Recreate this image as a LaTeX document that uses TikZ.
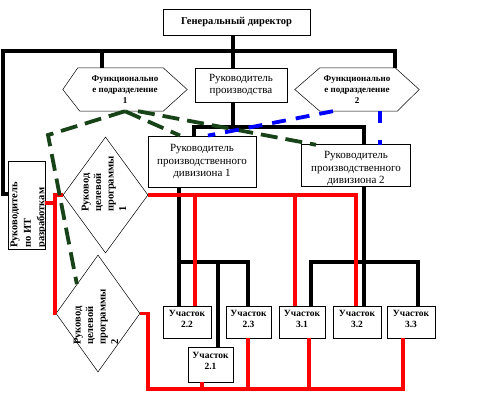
\documentclass[tikz,border=0pt]{standalone}
\usepackage{fontspec}
\setmainfont{Liberation Serif}
\usetikzlibrary{shapes.geometric,calc}
\definecolor{dgreen}{RGB}{24,66,24}
\definecolor{lred}{RGB}{255,0,0}
\definecolor{lblue}{RGB}{0,0,255}
\begin{document}
\begin{tikzpicture}[x=1pt,y=-1pt,
  box/.style={draw,fill=white,line width=0.9pt,inner sep=0pt},
  ghost/.style={inner sep=0pt},
  dia/.style={draw,fill=white,diamond,line width=0.5pt,inner sep=0pt},
  hexa/.style={draw,fill=white,line width=0.5pt},
  bl/.style={line width=3.2pt},
  rd/.style={line width=3.2pt,draw=lred},
  gdash/.style={line width=3.8pt,draw=dgreen,dash pattern=on 17pt off 8pt},
  bdash/.style={line width=3.8pt,draw=lblue,dash pattern=on 14pt off 10pt},
  bdashv/.style={line width=3.8pt,draw=lblue,dash pattern=on 12pt off 17pt},
  bigt/.style={font=\fontsize{11}{12.8}\selectfont,align=center,inner sep=0pt},
  hext/.style={font=\bfseries\fontsize{9}{11}\selectfont,align=center,inner sep=0pt},
  ut/.style={font=\bfseries\fontsize{9.5}{11.5}\selectfont,align=center,inner sep=0pt},
  rott/.style={rotate=90,anchor=west,align=left,font=\bfseries\fontsize{10.5}{12.5}\selectfont,inner sep=0pt},
]
\useasboundingbox (0,0) rectangle (497,408);

% ---- nodes ----
\node[box,minimum width=147pt,minimum height=26pt,font=\bfseries\fontsize{10.5}{12}\selectfont] (gen) at (236.5,22) {Генеральный директор};
\node[box,minimum width=92pt,minimum height=34pt,bigt] (prod) at (241,85) {Руководитель\\производства};
\node[box,minimum width=108pt,minimum height=51pt,bigt] (dv1) at (202,161.5) {Руководитель\\производственного\\дивизиона 1};

\node[ghost,minimum width=108pt,minimum height=41pt] (dv2) at (356,165.5) {};
\begin{scope}
  \clip (dv2.north west) rectangle (dv2.south east);
  \node[bigt] at (356,168.5) {Руководитель\\производственного\\дивизиона 2};
\end{scope}
\draw[line width=0.9pt] (dv2.north west) rectangle (dv2.south east);

\node[ghost,minimum width=36pt,minimum height=87pt] (lb) at (27,205.5) {};
\begin{scope}
  \clip (lb.north west) rectangle (lb.south east);
  \node[rotate=90,anchor=west,align=left,inner sep=0pt,font=\bfseries\fontsize{10.5}{13.5}\selectfont] at (28.5,248) {Руководитель\\по ИТ\\разработкам};
\end{scope}
\draw[line width=0.9pt] (lb.north west) rectangle (lb.south east);

\node[dia,minimum width=85pt,minimum height=116pt] (p1) at (105.5,195) {};
\node[rott] at (104,212) {Руковод\\целевой\\программы\\1};
\node[dia,minimum width=84pt,minimum height=117pt] (p2) at (98,313.5) {};
\node[rott] at (96,345) {Руковод\\целевой\\программы\\2};

\node[ghost,minimum width=124pt,minimum height=43pt] (h1) at (125,89.5) {};
\draw[hexa] (h1.west) -- ($(h1.north west)+(15,0)$) -- ($(h1.north east)+(-24,0)$) -- (h1.east) -- ($(h1.south east)+(-24,0)$) -- ($(h1.south west)+(17,0)$) -- cycle;
\node[hext] at (h1.center) {Функционально\\е подразделение\\1};

\node[ghost,minimum width=124pt,minimum height=43pt] (h2) at (357,89.5) {};
\draw[hexa] (h2.west) -- ($(h2.north west)+(25,0)$) -- ($(h2.north east)+(-24,0)$) -- (h2.east) -- ($(h2.south east)+(-22,0)$) -- ($(h2.south west)+(25,0)$) -- cycle;
\node[hext] at (h2.center) {Функционально\\е подразделение\\2};

\node[box,minimum width=48pt,minimum height=32pt] (u22) at (187,322) {};
\node[ut] at (187,319) {Участок\\2.2};
\node[box,minimum width=45pt,minimum height=32pt] (u23) at (248.5,322) {};
\node[ut] at (248.5,319) {Участок\\2.3};
\node[box,minimum width=46pt,minimum height=32pt] (u31) at (302,322) {};
\node[ut] at (302,319) {Участок\\3.1};
\node[box,minimum width=48pt,minimum height=32pt] (u32) at (357,322) {};
\node[ut] at (357,319) {Участок\\3.2};
\node[box,minimum width=48pt,minimum height=32pt] (u33) at (411,322) {};
\node[ut] at (411,319) {Участок\\3.3};
\node[box,minimum width=45pt,minimum height=35pt] (u21) at (210.5,364.5) {};
\node[ut] at (210.5,361) {Участок\\2.1};

% ---- black connectors ----
\coordinate (tk) at (233,51);
\coordinate (busL) at (3,51);
\coordinate (busR) at (395,51);
\coordinate (lbk) at (3,194);
\coordinate (hd) at (102,51);
\draw[bl] (gen.south -| tk) -- (prod.north -| tk);
\draw[bl] (lbk -| lb.west) -- (lbk) -- (busL) -- (busR) -- (busR |- h2.north);
\draw[bl] (hd) -- (hd |- h1.north);

\coordinate (db) at (233,127);
\coordinate (dbL) at (194,127);
\coordinate (dbR) at (364,127);
\draw[bl] (prod.south -| db) -- (db);
\draw[bl] (dbL |- dv1.north) -- (dbL) -- (dbR) -- (dbR |- dv2.north);

\coordinate (s2L) at (179,262);
\coordinate (s2M) at (218,262);
\coordinate (s2R) at (248,262);
\draw[bl] (s2L |- dv1.south) -- (s2L |- u22.north);
\draw[bl] (s2L) -- (s2R) -- (s2R |- u23.north);
\draw[bl] (s2M) -- (s2M |- u21.north);

\coordinate (s3L) at (311,262);
\coordinate (s3R) at (418,262);
\draw[bl] (dbR |- dv2.south) -- (dbR |- u32.north);
\draw[bl] (s3L |- u31.north) -- (s3L) -- (s3R) -- (s3R |- u33.north);

% ---- red connectors ----
\coordinate (rv) at (55,203);
\coordinate (rt) at (55,195);
\draw[rd] (rv -| lb.east) -- (rv);
\draw[rd] (p1.west) -- (rt) -- (rt |- p2.west) -- (p2.west);
\coordinate (r22) at (195,195);
\coordinate (r31) at (295,195);
\coordinate (r32) at (356,195);
\draw[rd] (p1.east) -- (r32) -- (r32 |- u32.north);
\draw[rd] (r22) -- (r22 |- u22.north);
\draw[rd] (r31) -- (r31 |- u31.north);
\coordinate (bbL) at (148,389);
\coordinate (bbR) at (403,389);
\coordinate (b21) at (202,389);
\coordinate (b23) at (248,389);
\coordinate (b31) at (309,389);
\draw[rd] (p2.east) -- (p2.east -| bbL) -- (bbL) -- (bbR) -- (bbR |- u33.south);
\draw[rd] (b21) -- (b21 |- u21.south);
\draw[rd] (b23) -- (b23 |- u23.south);
\draw[rd] (b31) -- (b31 |- u31.south);

% ---- dashed connectors ----
\coordinate (gk) at (48,135);
\coordinate (ga) at (180,0);
\coordinate (gb) at (138,0);
\coordinate (gb2) at (316,0);
\draw[gdash] (h1.south) -- (gk) -- (p2.north west);
\draw[gdash] (h1.south) -- (ga |- dv1.north);
\draw[gdash] (gb |- h1.south) -- (gb2 |- dv2.north);

\coordinate (ba) at (333,0);
\coordinate (bb) at (208,0);
\coordinate (bc) at (380,0);
\draw[bdash] (ba |- h2.south) -- (bb |- dv1.north);
\draw[bdashv] (bc |- h2.south) -- (bc |- dv2.north);
\end{tikzpicture}
\end{document}
